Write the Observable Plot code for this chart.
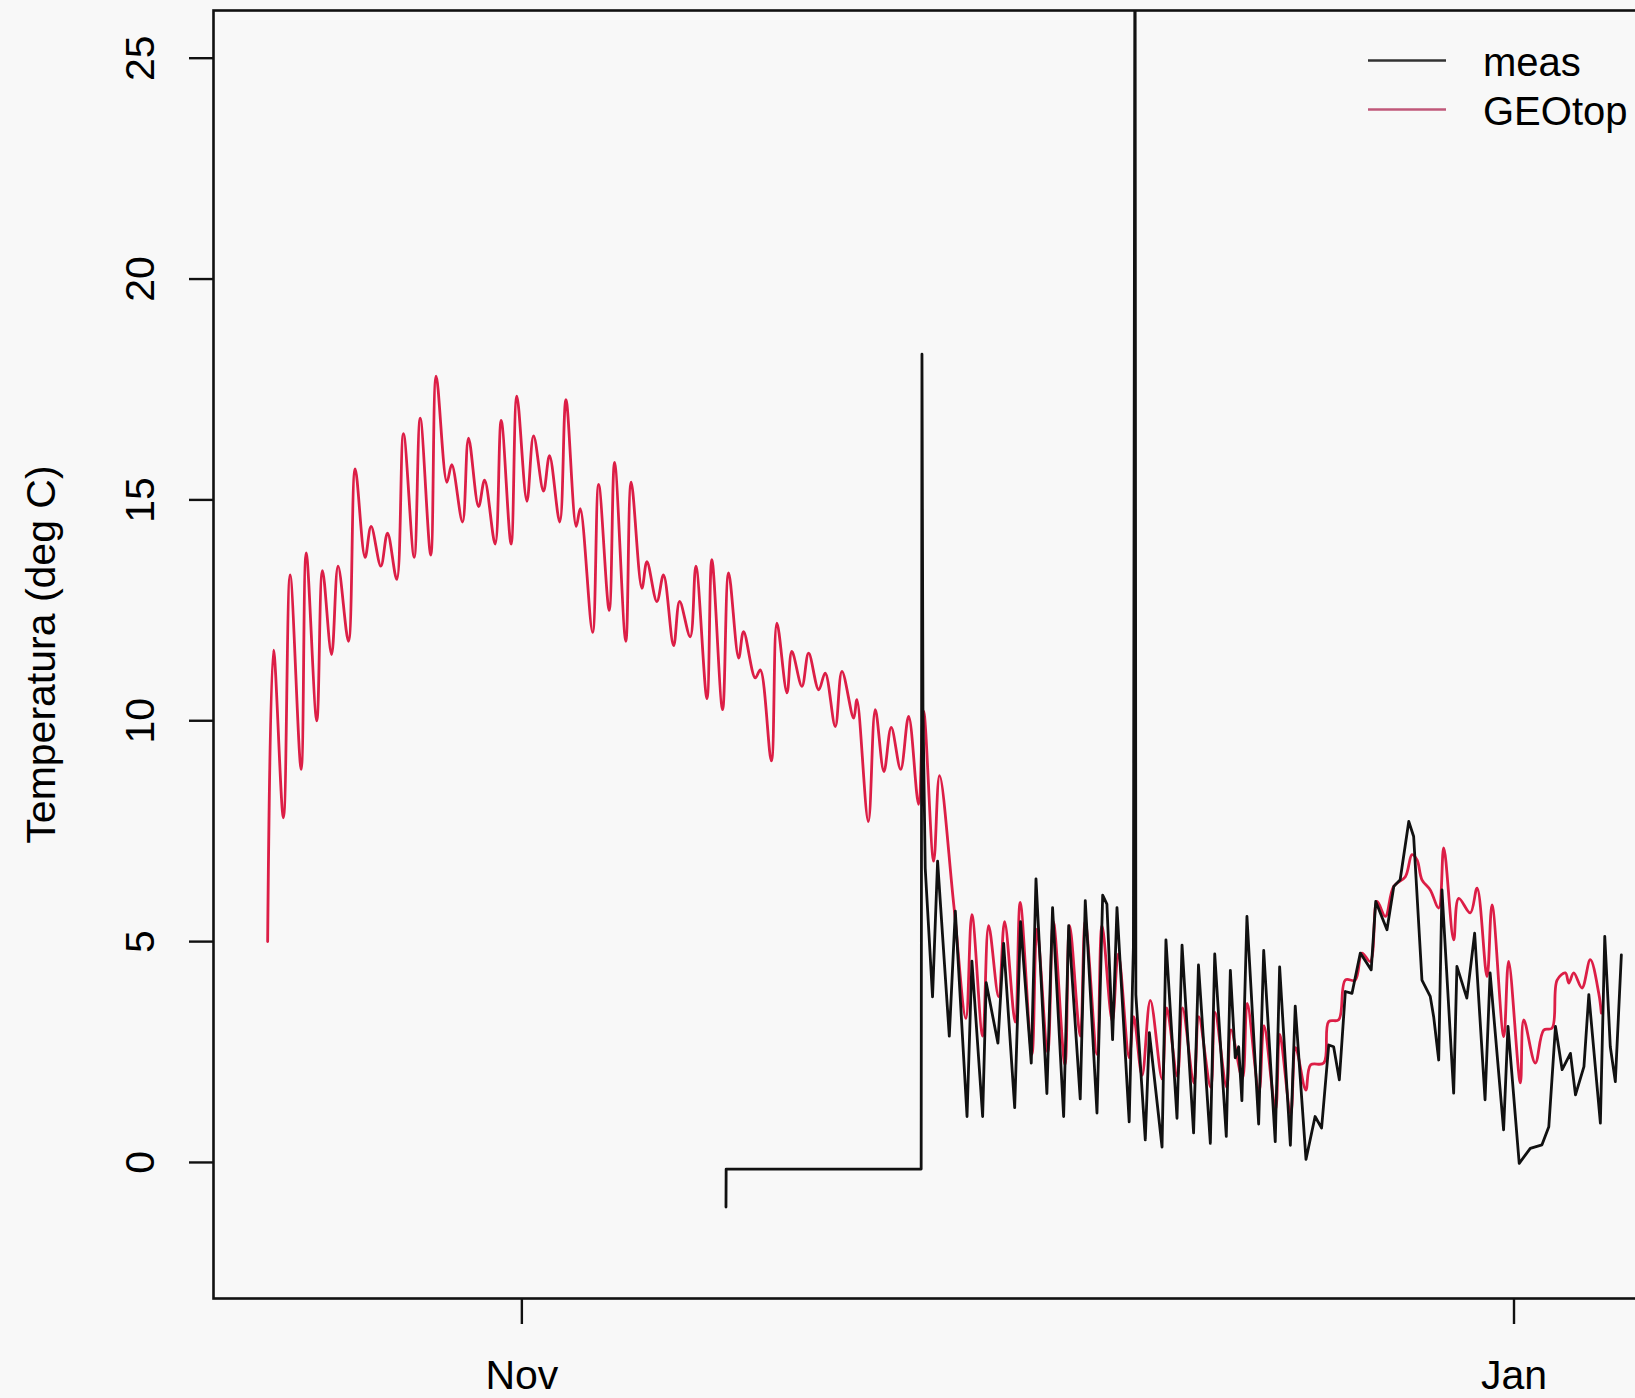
<!DOCTYPE html>
<html>
<head>
<meta charset="utf-8">
<script src="https://cdn.jsdelivr.net/npm/d3@7"></script>
<script src="https://cdn.jsdelivr.net/npm/@observablehq/plot@0.6"></script>
<style>
  html, body { margin: 0; padding: 0; background: #f8f8f8; overflow: hidden; }
  #wrap { position: relative; width: 1635px; height: 1398px; overflow: hidden; }
  #chart svg { max-width: none !important; width: 1675px; height: 1398px; display: block; }
  #legend { position: absolute; left: 1368px; top: 36px; font-family: "Liberation Sans", Arial, Helvetica, sans-serif; font-size: 40px; color: #000; }
  #legend .row { display: flex; align-items: center; height: 49px; }
  #legend .row span { margin-left: 37px; position: relative; top: 2px; white-space: nowrap; }
</style>
</head>
<body>
<div id="wrap">
  <div id="chart"></div>
  <div id="legend"></div>
</div>
<script>
// ---- data (time as decimal days since season start) ----
const seasonStart = "2013-10-01";

const geotopDay = [15.37,15.73,16.34,16.75,17.43,17.74,18.39,18.74,19.30,19.70,20.34,20.75,21.36,21.73,22.33,22.74,23.31,23.72,24.38,24.75,25.40,25.73,26.39,26.69,27.35,27.72,28.34,28.71,29.36,29.73,30.34,30.69,31.31,31.72,32.33,32.70,33.33,33.71,34.34,34.59,35.35,35.72,36.37,36.70,37.39,37.72,38.38,38.69,39.30,39.71,40.33,40.70,41.35,41.70,42.38,42.68,43.34,43.71,44.33,44.63,45.35,45.66,46.34,46.68,47.30,47.60,48.22,48.63,49.25,49.65,50.27,50.68,51.40,51.60,52.30,52.73,53.26,53.71,54.29,54.78,55.39,55.70,56.32,56.68,57.55,58.30,58.67,59.33,59.70,60.31,60.68,61.33,61.64,62.36,62.67,63.33,63.68,64.39,64.68,65.33,65.64,66.36,66.67,67.30,67.67,68.34,68.62,69.13,69.64,70.36,70.65,71.30,71.62,72.32,72.62,73.35,73.62,74.33,74.60,75.30,75.60,76.32,76.63,77.34,77.60,78.27,78.57,79.20,79.50,80.30,80.61,81.22,81.63,82.24,82.65,83.16,83.58,84.09,84.60,85.32,85.73,86.04,86.34,86.85,87.37,87.68,88.29,88.60,89.31,89.73,90.34,90.65,91.37,91.67,92.39,92.60,93.31,93.83,94.34,94.65,95.16,95.37,95.67,96.18,96.69,97.21,97.37];
const geotopTemp = [5.0,11.6,7.8,13.3,8.9,13.8,10.0,13.4,11.5,13.5,11.8,15.7,13.7,14.4,13.5,14.25,13.2,16.5,13.7,16.85,13.75,17.8,15.4,15.8,14.5,16.4,14.85,15.45,14.0,16.8,14.0,17.35,14.97,16.45,15.2,16.0,14.5,17.27,14.4,14.8,12.0,15.35,12.5,15.85,11.8,15.4,13.0,13.6,12.7,13.3,11.7,12.7,11.9,13.5,10.5,13.65,10.25,13.35,11.42,12.02,10.97,11.15,9.09,12.21,10.63,11.57,10.78,11.53,10.7,11.08,9.87,11.12,10.06,10.48,7.72,10.25,8.85,9.85,8.9,10.1,8.11,10.22,6.82,8.76,5.85,3.26,5.61,2.86,5.36,3.75,5.45,3.18,5.89,2.45,5.28,2.5,5.45,2.21,5.36,2.86,5.45,2.45,5.36,3.2,4.72,2.37,3.3,1.97,3.67,1.89,3.5,1.95,3.5,1.8,3.3,1.7,3.4,1.7,3.0,1.9,3.6,1.6,3.1,1.2,2.9,1.1,2.6,1.64,2.21,2.25,3.19,3.23,4.13,4.13,4.74,4.55,5.91,5.57,6.25,6.47,6.97,6.85,6.4,6.17,5.76,7.12,5.04,5.98,5.65,6.21,4.21,5.83,2.85,4.55,1.8,3.23,2.25,3.0,3.04,4.13,4.29,4.06,4.29,3.95,4.59,3.83,3.38];

const measDay = [43.55,43.56,55.55,55.60,55.66,55.80,56.25,56.56,57.28,57.65,58.37,58.67,59.33,59.55,60.27,60.62,61.30,61.66,62.32,62.61,63.28,63.63,64.31,64.62,65.33,65.64,66.36,66.71,66.97,67.32,67.59,68.34,68.60,68.70,68.75,69.33,69.58,70.36,70.60,71.28,71.59,72.30,72.60,73.33,73.60,74.31,74.56,74.86,75.07,75.27,75.58,76.30,76.61,77.32,77.59,78.25,78.55,79.21,79.77,80.17,80.61,80.91,81.26,81.63,82.04,82.55,83.22,83.50,84.19,84.61,85.00,85.53,85.83,86.34,86.85,87.06,87.37,87.57,88.29,88.49,89.10,89.58,90.22,90.53,91.36,91.63,92.32,93.00,93.72,94.14,94.55,94.96,95.47,95.78,96.30,96.60,97.31,97.58,97.92,98.23,98.60];
const measTemp = [-1.01,-0.15,-0.15,18.3,10.3,6.66,3.75,6.82,2.86,5.69,1.04,4.56,1.04,4.07,2.7,4.96,1.24,5.45,2.25,6.42,1.56,5.77,1.04,5.36,1.44,5.93,1.12,6.05,5.85,2.78,5.77,0.92,4.88,30.0,3.8,0.51,2.94,0.35,5.04,1.0,4.92,0.67,4.47,0.43,4.72,0.59,4.35,2.37,2.62,1.4,5.57,0.87,4.8,0.47,4.43,0.39,3.54,0.07,1.04,0.78,2.66,2.62,1.87,3.87,3.83,4.74,4.36,5.91,5.27,6.25,6.4,7.72,7.38,4.13,3.76,3.3,2.32,6.17,1.57,4.44,3.72,5.19,1.42,4.29,0.74,3.08,-0.02,0.32,0.4,0.81,3.08,2.1,2.47,1.53,2.17,3.8,0.89,5.12,2.62,1.83,4.7];

const seriesNames = ["meas", "GEOtop"];
const yLimits = [-2, 25];
const yTicks = [0, 5, 10, 15, 20, 25];
const monthTicks = ["2013-11-01", "2014-01-01"];
const monthLabels = ["Nov", "Jan"];
const yTitle = "Temperatura (deg C)";

// ---- build ----
const RED = "#dc1e46";
const FONT = '"Liberation Sans", Arial, Helvetica, sans-serif';
const t0 = Date.parse(seasonStart + "T00:00:00Z");
const toDate = d => new Date(t0 + d * 864e5);

const geotop = geotopDay.map((d, i) => ({t: toDate(d), v: geotopTemp[i]}));
const meas = measDay.map((d, i) => ({t: toDate(d), v: measTemp[i]}));

// R-style 4% axis padding
const [d0, d1] = d3.extent(geotopDay.concat(measDay));
const px = 0.04 * (d1 - d0);
const py = 0.04 * (yLimits[1] - yLimits[0]);
const monthDates = monthTicks.map(s => new Date(s + "T00:00:00Z"));

const chart = Plot.plot({
  width: 1675,
  height: 1398,
  marginLeft: 213,
  marginRight: 0,
  marginTop: 10,
  marginBottom: 100,
  style: {background: "transparent", fontFamily: FONT, color: "#000", overflow: "visible", maxWidth: "none"},
  x: {type: "utc", domain: [toDate(d0 - px), toDate(d1 + px)], label: null},
  y: {domain: [yLimits[0] - py, yLimits[1] + py], label: null},
  marks: [
    Plot.line(geotop, {x: "t", y: "v", stroke: RED, strokeWidth: 2.8, curve: "catmull-rom", clip: true}),
    Plot.line(meas, {x: "t", y: "v", stroke: "#111", strokeWidth: 2.8, clip: true}),
    Plot.frame({stroke: "#111", strokeWidth: 2.6}),
    Plot.axisY(yTicks, {tickSize: 24, strokeWidth: 2.4, stroke: "#111", tickFormat: () => "", label: null}),
    Plot.axisX(monthDates, {tickSize: 26, strokeWidth: 2.4, stroke: "#111", tickFormat: () => "", label: null}),
    Plot.text(yTicks, {y: d => d, text: d => String(d), frameAnchor: "left", dx: -73, rotate: -90,
      textAnchor: "middle", lineAnchor: "middle", fontSize: 41, fill: "#000"}),
    Plot.text(monthDates, {x: d => d, text: (d, i) => monthLabels[i], frameAnchor: "bottom", dy: 77,
      textAnchor: "middle", lineAnchor: "middle", fontSize: 41, fill: "#000"}),
    Plot.text([yTitle], {text: d => d, frameAnchor: "left", dx: -172, rotate: -90,
      textAnchor: "middle", lineAnchor: "middle", fontSize: 41, fill: "#000"})
  ]
});
document.getElementById("chart").appendChild(chart);

// legend
const legendColors = ["#333333", "#c0587a"];
const legend = d3.select("#legend");
seriesNames.forEach((name, i) => {
  const row = legend.append("div").attr("class", "row");
  const svg = row.append("svg").attr("width", 78).attr("height", 49);
  svg.append("line").attr("x1", 0).attr("x2", 78).attr("y1", 24.5).attr("y2", 24.5)
    .attr("stroke", legendColors[i]).attr("stroke-width", 2.6);
  row.append("span").text(name);
});
</script>
</body>
</html>
